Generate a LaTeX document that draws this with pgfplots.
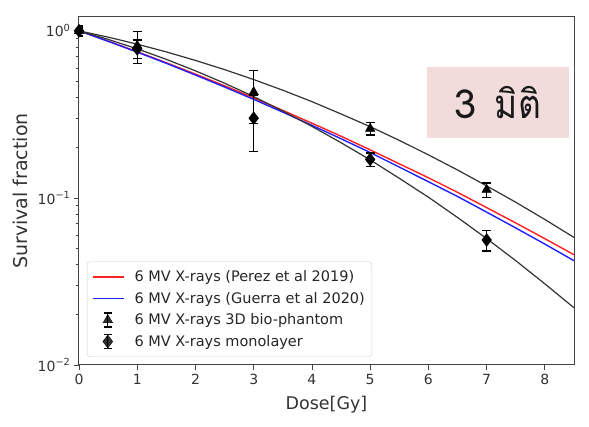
\documentclass[border=0pt]{standalone}
\usepackage{fontspec}
\setmainfont{DejaVu Sans}
\newfontfamily\thaifont[Script=Thai]{Loma}
\usepackage{pgfplots}
\usepackage{pgfplotstable}
\pgfplotsset{compat=1.18}
\definecolor{pinkbox}{HTML}{F2DCDB}
\definecolor{spine}{HTML}{444444}
\definecolor{curve}{HTML}{333333}
\definecolor{fitred}{HTML}{FF2020}
\definecolor{fitblue}{HTML}{2020FF}

% dose, 3D fit, monolayer fit, Perez, Guerra
\pgfplotstableread{
D    up     low    red    blue
0.0  1.000  1.000  1.000  1.000
0.5  0.917  0.889  0.868  0.866
1.0  0.832  0.780  0.750  0.746
1.5  0.748  0.675  0.644  0.639
2.0  0.665  0.576  0.551  0.544
2.5  0.586  0.486  0.469  0.461
3.0  0.511  0.404  0.397  0.389
3.5  0.441  0.331  0.334  0.326
4.0  0.377  0.268  0.280  0.272
4.5  0.318  0.214  0.234  0.226
5.0  0.267  0.169  0.194  0.187
5.5  0.221  0.131  0.160  0.153
6.0  0.181  0.101  0.132  0.125
6.5  0.147  0.0764 0.108  0.102
7.0  0.118  0.0571 0.0875 0.0822
7.5  0.0942 0.0421 0.0708 0.0661
8.0  0.0743 0.0306 0.0570 0.0529
8.5  0.0580 0.0220 0.0457 0.0421
}\fits

\pgfplotstableread{
D  S     err
0  1.00  0.07
1  0.815 0.175
3  0.43  0.15
5  0.26  0.022
7  0.112 0.011
}\phantom

\pgfplotstableread{
D  S     err
0  1.00  0.04
1  0.78  0.10
3  0.30  0.11
5  0.170 0.016
7  0.056 0.0078
}\mono

\pgfplotsset{
  errleg/.style={legend image code/.code={
    \draw[black, line width=1.2pt] (15pt,-7pt) -- (15pt,7pt);
    \draw[black, line width=1.2pt] (11pt,-7pt) -- (19pt,-7pt) (11pt,7pt) -- (19pt,7pt);
    \draw[##1] plot coordinates {(15pt,0pt)};
  }},
}

\begin{document}
\begin{tikzpicture}
\path[use as bounding box] (-79pt,-62pt) rectangle (510pt,365pt);
\begin{axis}[
  scale only axis,
  width=495pt, height=348pt,
  ymode=log,
  xmin=0, xmax=8.5,
  ymin=0.01, ymax=1.21,
  xtick={0,1,...,8},
  ytick={0.01,0.1,1},
  yticklabels={10\textsuperscript{−2},10\textsuperscript{−1},10\textsuperscript{0}},
  minor ytick={0.02,0.03,0.04,0.05,0.06,0.07,0.08,0.09,0.2,0.3,0.4,0.5,0.6,0.7,0.8,0.9},
  tick pos=left,
  tick align=outside,
  major tick length=5pt,
  minor tick length=3pt,
  tick style={spine, line width=0.8pt},
  axis line style={spine, line width=1pt},
  /pgf/number format/assume math mode=true,
  tick label style={font=\fontsize{14}{16}\selectfont, text=black!80},
  xticklabel style={yshift=-1pt},
  xlabel={Dose[Gy]},
  ylabel={Survival fraction},
  every axis x label/.style={at={(axis description cs:0.5,-0.115)}, anchor=center,
    font=\fontsize{17.5}{20}\selectfont, text=black!80},
  every axis y label/.style={at={(axis description cs:-0.119,0.5)}, anchor=center,
    rotate=90, font=\fontsize{19}{22}\selectfont, text=black!80},
  legend cell align=left,
  legend style={at={(rel axis cs:0.016,0.023)}, anchor=south west,
    draw=black!20, rounded corners=3pt, fill=white, fill opacity=0.8,
    text opacity=1, font=\fontsize{14.5}{17}\selectfont, text=black!85,
    row sep=5pt, inner xsep=5pt, inner ysep=7pt,
    /tikz/every odd column/.append style={column sep=8pt}},
  clip mode=individual,
]
\addplot[fitred, line width=1.4pt,
  legend image code/.code={\draw[fitred, line width=1.4pt] (0pt,0pt) -- (31pt,0pt);}]
  table[x=D, y=red] {\fits};
\addlegendentry{6 MV X-rays (Perez et al 2019)}
\addplot[fitblue, line width=1.4pt,
  legend image code/.code={\draw[fitblue, line width=1.4pt] (0pt,0pt) -- (31pt,0pt);}]
  table[x=D, y=blue] {\fits};
\addlegendentry{6 MV X-rays (Guerra et al 2020)}
\addplot[curve, line width=1.2pt, forget plot] table[x=D, y=up] {\fits};
\addplot[curve, line width=1.2pt, forget plot] table[x=D, y=low] {\fits};

\addplot[only marks, mark=triangle*, mark size=5.5pt, black, errleg,
  error bars/.cd, y dir=both, y explicit,
  error bar style={black, line width=1.3pt},
  error mark options={rotate=90, mark size=4.5pt, line width=1.3pt, black}]
  table[x=D, y=S, y error=err] {\phantom};
\addlegendentry{6 MV X-rays 3D bio-phantom}

\addplot[only marks, mark=diamond*, mark size=6.5pt, black, errleg,
  error bars/.cd, y dir=both, y explicit,
  error bar style={black, line width=1.3pt},
  error mark options={rotate=90, mark size=4.5pt, line width=1.3pt, black}]
  table[x=D, y=S, y error=err] {\mono};
\addlegendentry{6 MV X-rays monolayer}

\node[fill=pinkbox, minimum width=142pt, minimum height=71pt, inner sep=0pt,
  font=\thaifont\fontsize{40}{40}\selectfont, text=black!90]
  at (rel axis cs:0.846,0.754) {3\hspace{18pt}\scalebox{0.88}[1]{มิติ}};
\end{axis}
\end{tikzpicture}
\end{document}
